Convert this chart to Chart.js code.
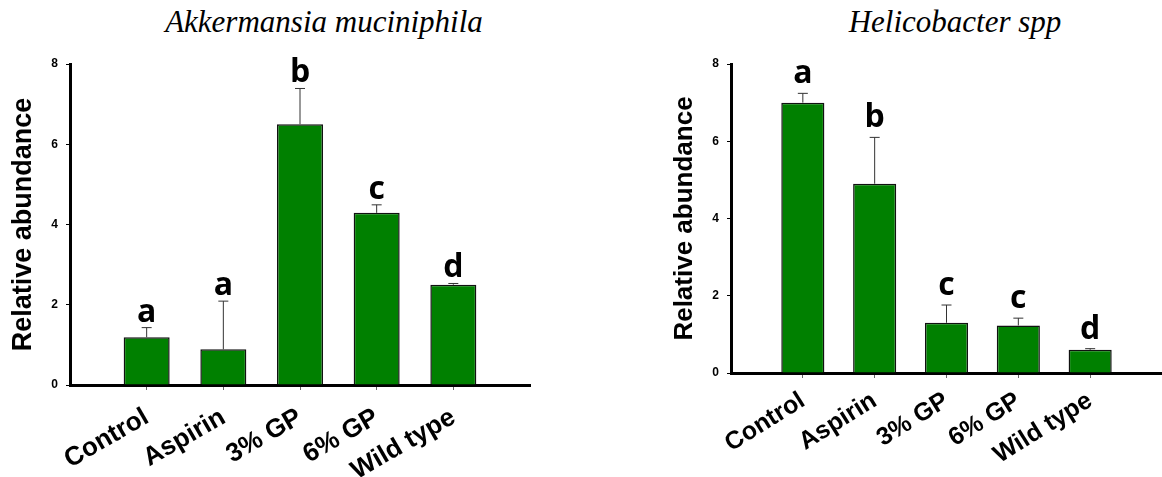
<!DOCTYPE html>
<html lang="en">
<head>
<meta charset="UTF-8">
<title>Relative abundance</title>
<script src="https://cdn.jsdelivr.net/npm/chart.js"></script>
<style>
  body { margin: 0; background: #fff; }
  .wrap { position: relative; width: 1162px; height: 477px; overflow: hidden; }
  canvas { position: absolute; top: 0; }
  .ttl { position: absolute; top: 6px; font: italic 31px "Liberation Serif", serif; line-height: 31px;
         white-space: nowrap; transform: translateX(-50%); color: #000; }
</style>
</head>
<body>
<div class="wrap">
  <div class="ttl" style="left:324px">Akkermansia muciniphila</div>
  <div class="ttl" style="left:955px">Helicobacter spp</div>
  <canvas id="akkChart" width="580" height="477" style="left:0"></canvas>
  <canvas id="heliChart" width="502" height="477" style="left:660px"></canvas>
</div>
<script>
// groups and values
const groups = ['Control', 'Aspirin', '3% GP', '6% GP', 'Wild type'];
const yTicks = [0, 2, 4, 6, 8];

const akkMean = [1.19, 0.89, 6.5, 4.29, 2.5];
const akkErr = [0.24, 1.2, 0.89, 0.2, 0.03];
const akkLetters = ['a', 'a', 'b', 'c', 'd'];

const heliMean = [7.0, 4.9, 1.3, 1.23, 0.6];
const heliErr = [0.24, 1.2, 0.46, 0.19, 0.03];
const heliLetters = ['a', 'b', 'c', 'c', 'd'];

// error bars (upper only) and significance letters
const errorLetters = {
  id: 'errorLetters',
  afterDatasetsDraw(chart, args, opts) {
    const ctx = chart.ctx;
    const y = chart.scales.y;
    const ds = chart.data.datasets[0];
    const meta = chart.getDatasetMeta(0);
    ctx.save();
    ds.errors.forEach((e, i) => {
      const bar = meta.data[i + 1];
      const top = y.getPixelForValue(ds.data[i + 1] + e);
      ctx.strokeStyle = '#333';
      ctx.lineWidth = 1;
      ctx.beginPath();
      ctx.moveTo(bar.x, bar.y);
      ctx.lineTo(bar.x, top);
      ctx.moveTo(bar.x - 5, top);
      ctx.lineTo(bar.x + 5, top);
      ctx.stroke();
      ctx.fillStyle = '#000';
      ctx.font = 'bold 32px "Open Sans"';
      ctx.textAlign = 'center';
      ctx.textBaseline = 'alphabetic';
      ctx.fillText(ds.letters[i], bar.x, top - opts.gap);
    });
    ctx.restore();
  }
};

function makeChart(id, mean, err, letters, o) {
  return new Chart(document.getElementById(id), {
    type: 'bar',
    data: {
      labels: ['', ...groups, ''],
      datasets: [{
        data: [null, ...mean, null],
        errors: err,
        letters: letters,
        backgroundColor: '#008000',
        borderColor: '#111',
        borderWidth: 1.5,
        categoryPercentage: 1,
        barPercentage: 0.6
      }]
    },
    options: {
      responsive: false,
      animation: false,
      layout: { padding: { top: 64, left: 0, right: o.padRight, bottom: 0 } },
      plugins: {
        legend: { display: false },
        tooltip: { enabled: false },
        errorLetters: { gap: o.gap }
      },
      scales: {
        x: {
          offset: false,
          grid: {
            offset: false,
            drawOnChartArea: false,
            tickLength: 5,
            color: c => (c.index === 0 || c.index === groups.length + 1) ? 'rgba(0,0,0,0)' : '#666'
          },
          border: { color: '#000', width: 3 },
          ticks: {
            autoSkip: false,
            minRotation: o.rot,
            maxRotation: o.rot,
            padding: o.xPad,
            color: '#000',
            font: { family: 'Liberation Sans', weight: 'bold', size: o.xFont }
          },
          afterFit: s => { s.height = o.xHeight; s.paddingLeft = 0; s.paddingRight = 0; }
        },
        y: {
          min: 0,
          max: 8,
          afterBuildTicks: s => { s.ticks = yTicks.map(v => ({ value: v })); },
          grid: { drawOnChartArea: false, tickLength: 4, color: '#000' },
          border: { color: '#000', width: 3 },
          ticks: {
            padding: 8,
            color: '#000',
            font: { family: 'Liberation Sans', weight: 'bold', size: 12 }
          },
          title: {
            display: true,
            text: 'Relative abundance',
            color: '#000',
            font: { family: 'Liberation Sans', weight: 'bold', size: o.titleFont, lineHeight: 1 },
            padding: { top: o.titlePad, bottom: 0 }
          },
          afterFit: s => { s.width = o.yWidth; }
        }
      }
    },
    plugins: [errorLetters]
  });
}

makeChart('akkChart', akkMean, akkErr, akkLetters,
  { gap: 6, rot: 30, xPad: 12, xFont: 26, xHeight: 92, yWidth: 70, padRight: 50, titleFont: 27, titlePad: 10 });
makeChart('heliChart', heliMean, heliErr, heliLetters,
  { gap: 10, rot: 32, xPad: 8, xFont: 25, xHeight: 104, yWidth: 71, padRight: 0, titleFont: 26, titlePad: 12 });
</script>
</body>
</html>
